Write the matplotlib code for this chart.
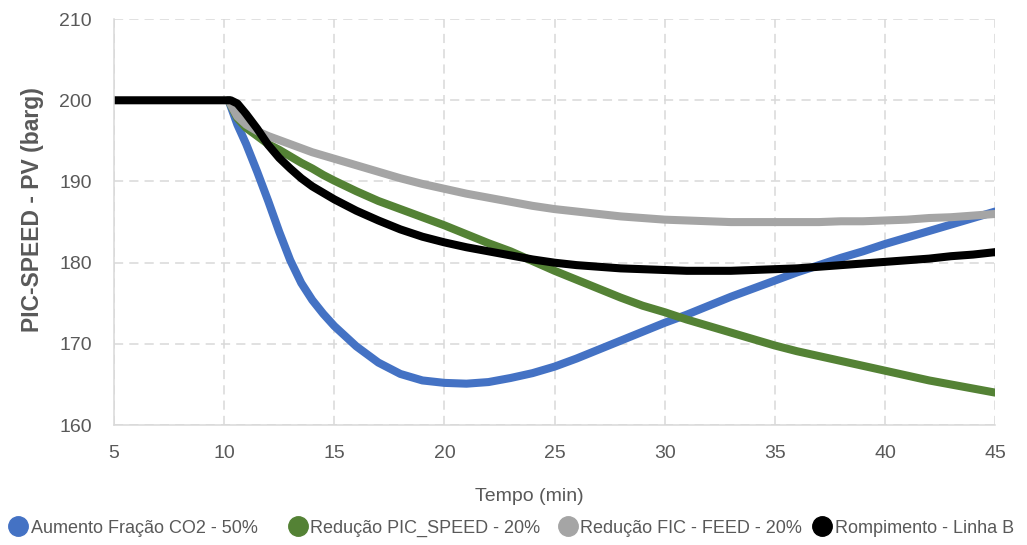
import matplotlib.pyplot as plt
from matplotlib.lines import Line2D

plt.rcParams['font.family'] = ['Liberation Sans', 'DejaVu Sans']

# time axis (min) shared by the three step scenarios
tempo = [10.2, 10.6, 11, 11.5, 12, 12.5, 13, 13.5, 14, 14.5, 15, 16, 17, 18, 19, 20, 21, 22, 23,
         24, 25, 26, 27, 28, 29, 30, 31, 32, 33, 34, 35, 36, 37, 38, 39, 40, 41, 42, 43, 44, 45]

co2_50 = [200, 197.0, 194.6, 191.2, 187.6, 183.8, 180.3, 177.5, 175.4, 173.7, 172.2, 169.7,
          167.7, 166.3, 165.5, 165.2, 165.1, 165.3, 165.8, 166.4, 167.2, 168.2, 169.3, 170.4,
          171.5, 172.6, 173.6, 174.7, 175.8, 176.8, 177.8, 178.8, 179.7, 180.6, 181.4, 182.3,
          183.1, 183.9, 184.7, 185.5, 186.3]

pic_speed_20 = [200, 197.8, 196.6, 195.6, 194.6, 193.9, 193.1, 192.3, 191.6, 190.8, 190.1,
                188.8, 187.6, 186.6, 185.6, 184.6, 183.5, 182.4, 181.4, 180.2, 179.0, 177.9,
                176.8, 175.7, 174.7, 173.9, 173.0, 172.2, 171.4, 170.6, 169.8, 169.1, 168.5,
                167.9, 167.3, 166.7, 166.1, 165.5, 165.0, 164.5, 164.0]

fic_feed_20 = [200, 198.0, 197.0, 196.2, 195.6, 195.1, 194.6, 194.1, 193.6, 193.2, 192.8,
               192.0, 191.2, 190.4, 189.7, 189.1, 188.5, 188.0, 187.5, 187.0, 186.6, 186.3,
               186.0, 185.7, 185.5, 185.3, 185.2, 185.1, 185.0, 185.0, 185.0, 185.0, 185.0,
               185.1, 185.1, 185.2, 185.3, 185.5, 185.6, 185.8, 186.0]

# line break scenario starts at t = 5
tempo_b = [5, 10.3, 10.6, 11, 11.5, 12, 12.5, 13, 13.5, 14, 15, 16, 17, 18, 19, 20, 21, 22, 23,
           24, 25, 26, 27, 28, 29, 30, 31, 32, 33, 34, 35, 36, 37, 38, 39, 40, 41, 42, 43, 44, 45]
linha_b = [200, 200, 199.6, 198.3, 196.5, 194.5, 192.9, 191.6, 190.4, 189.4, 187.8, 186.4,
           185.2, 184.1, 183.2, 182.5, 181.9, 181.4, 180.9, 180.4, 180.0, 179.7, 179.5, 179.3,
           179.2, 179.1, 179.0, 179.0, 179.0, 179.1, 179.2, 179.3, 179.5, 179.7, 179.9, 180.1,
           180.3, 180.5, 180.8, 181.0, 181.3]

labels = ['Aumento Fração CO2 - 50%', 'Redução PIC_SPEED - 20%',
          'Redução FIC - FEED - 20%', 'Rompimento - Linha B']
colors = ['#4472C4', '#548235', '#A5A5A5', '#000000']
legend_x = [0.009, 0.281, 0.544, 0.792]  # left edge of each legend entry (figure fraction)

fig = plt.figure(figsize=(10.27, 5.45), dpi=100)
ax = fig.add_axes([0.111, 0.22, 0.858, 0.745])

series = [(tempo, co2_50), (tempo, pic_speed_20), (tempo, fic_feed_20), (tempo_b, linha_b)]
for (x, y), c, lab in zip(series, colors, labels):
    ax.plot(x, y, color=c, lw=5.8, solid_capstyle='round', solid_joinstyle='round', label=lab)

ax.set_xlim(5, 45)
ax.set_ylim(160, 210)
ax.set_xticks(range(5, 50, 5))
ax.set_yticks(range(160, 220, 10))

grid_c = '#D9D9D9'
ax.grid(True, color=grid_c, linestyle=(0, (6, 4)), linewidth=1.1)
ax.set_axisbelow(True)
for s in ['top', 'right']:
    ax.spines[s].set_visible(False)
for s in ['left', 'bottom']:
    ax.spines[s].set_color(grid_c)
    ax.spines[s].set_linewidth(1.1)

txt_c = '#595959'
ax.tick_params(length=0, labelsize=14, colors=txt_c)
ax.tick_params(axis='x', pad=14)
ax.tick_params(axis='y', pad=16)

ax.set_xlabel('Tempo (min)', fontsize=14, color=txt_c)
ax.xaxis.set_label_coords(0.471, -0.155)
ax.set_ylabel('PIC-SPEED - PV (barg)', fontsize=16.5, color=txt_c, fontweight='bold')
ax.yaxis.set_label_coords(-0.080, 0.53)

# Excel-style legend: equally spaced entries with round markers
for c, lab, lx in zip(colors, labels, legend_x):
    h = Line2D([], [], marker='o', linestyle='none', markersize=14, color=c)
    fig.legend([h], [lab], loc='center left', bbox_to_anchor=(lx, 0.031), frameon=False,
               fontsize=13, labelcolor=txt_c, handlelength=1.0, handletextpad=0.2,
               borderpad=0, borderaxespad=0)

fig.savefig('out.png', dpi=100)
